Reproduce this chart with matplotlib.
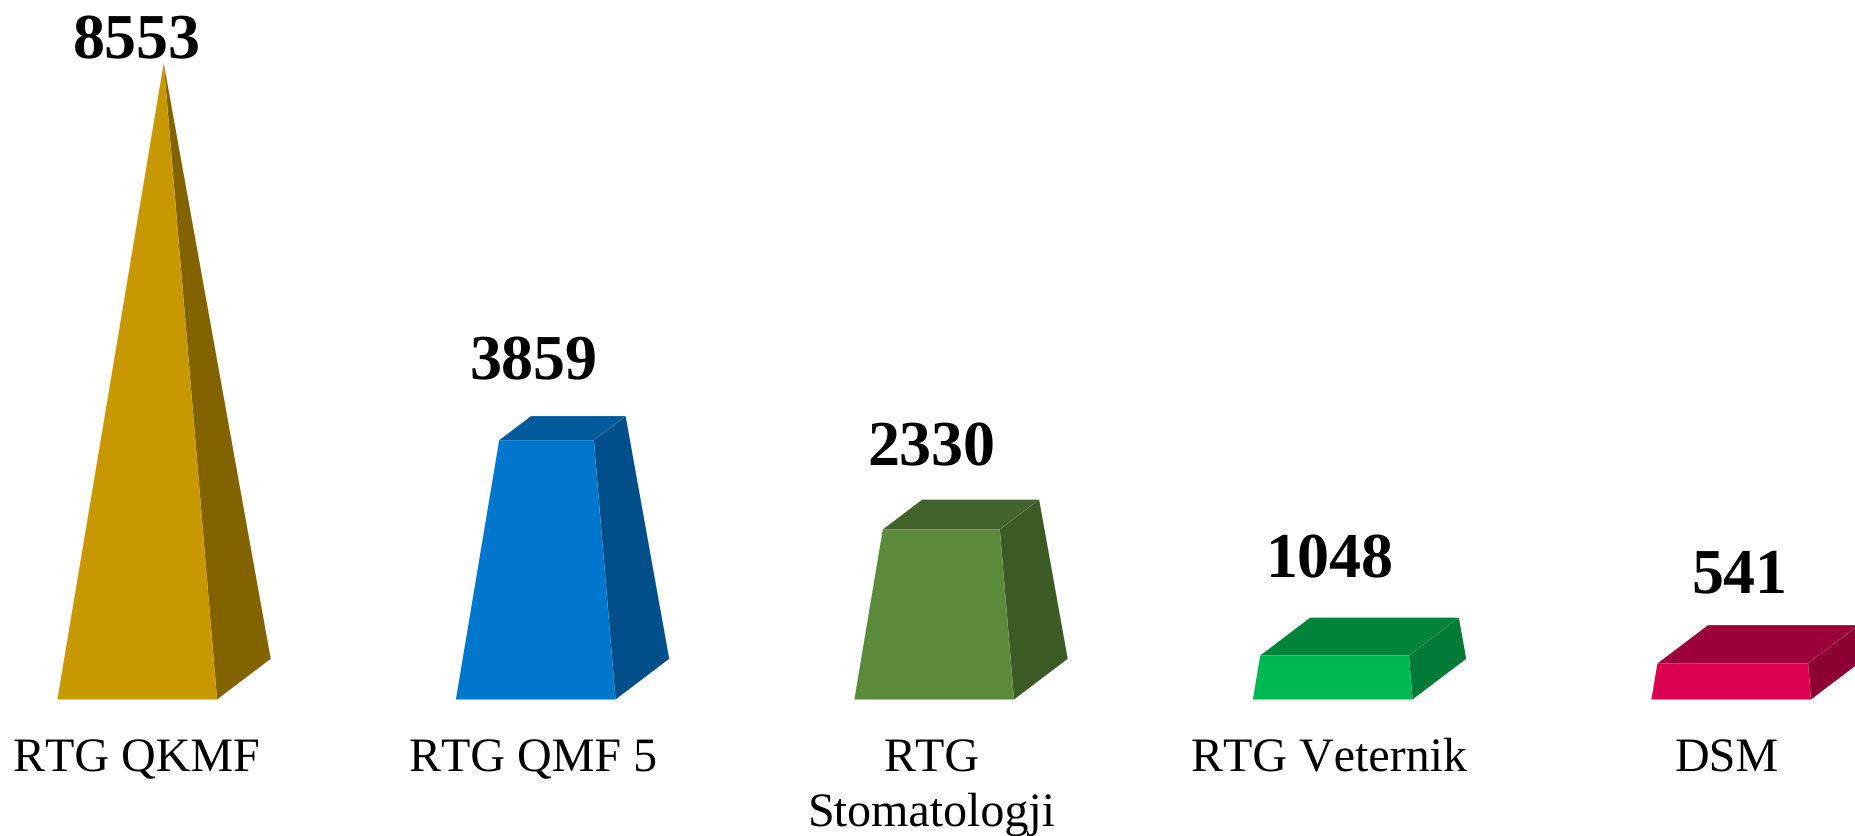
import matplotlib
matplotlib.use("Agg")
import matplotlib.pyplot as plt
from matplotlib.patches import Polygon

# --- data ---
categories = ["RTG QKMF", "RTG QMF 5", "RTG\nStomatologji", "RTG Veternik", "DSM"]
printed_values = [8553, 3859, 2330, 1048, 541]
# height of each truncated pyramid as drawn in the reference, on the scale where the apex = 8553
drawn_heights = [8553, 3483, 2284, 591, 483]

# --- style ---
front_colors = ["#C89800", "#0077CC", "#5B8A3A", "#00B853", "#DC0050"]
side_colors = ["#826300", "#004F8A", "#3C5A24", "#007A36", "#8C0033"]
top_colors = ["#826300", "#005A9B", "#42642A", "#00843C", "#9C003A"]

W, H = 1855, 837
BASE_PX, APEX_PX, SPACING_PX, FIRST_PX = 700.5, 63.8, 398.5, 137.2
PX_PER_VALUE = (BASE_PX - APEX_PX) / max(drawn_heights)
HALF_W = 79.85 / SPACING_PX
APEX_DX = 26.5 / SPACING_PX
DEPTH_X = 53.7 / SPACING_PX
DEPTH_Y = 40.7 / PX_PER_VALUE

value_dx_px = [-0.5, -1.7, -2.5, -3.0, 8.0]
value_gap_px = [5.3, 37.7, 35.0, 41.6, 33.6]
cat_dx_px = [-0.5, -3.0, -2.5, -4.0, -5.0]
CAT_BASE_PX = 771.7
CAT_LINE_PX = 54.3

plt.rcParams["font.family"] = ["Liberation Serif", "DejaVu Serif"]
plt.rcParams["text.hinting"] = "none"
plt.rcParams["text.hinting_factor"] = 1
plt.rcParams["text.kerning_factor"] = 10
fig = plt.figure(figsize=(W / 100, H / 100), dpi=100, facecolor="white")
ax = fig.add_axes([0, 0, 1, 1])
ax.set_xlim(-FIRST_PX / SPACING_PX, (W - FIRST_PX) / SPACING_PX)
ax.set_ylim(-(H - BASE_PX) / PX_PER_VALUE, BASE_PX / PX_PER_VALUE)
ax.axis("off")

APEX = max(drawn_heights)
PT = 72 / 100


def lerp(a, b, t):
    return (a[0] + (b[0] - a[0]) * t, a[1] + (b[1] - a[1]) * t)


for i, (h, v, name) in enumerate(zip(drawn_heights, printed_values, categories)):
    t = h / APEX
    apex = (i + APEX_DX, APEX)
    fl, fr = (i - HALF_W, 0.0), (i + HALF_W, 0.0)
    bl, br = (fl[0] + DEPTH_X, DEPTH_Y), (fr[0] + DEPTH_X, DEPTH_Y)
    ftl, ftr = lerp(fl, apex, t), lerp(fr, apex, t)
    btl, btr = lerp(bl, apex, t), lerp(br, apex, t)
    kw = dict(closed=True, edgecolor="none", antialiased=True)
    ax.add_patch(Polygon([ftl, ftr, btr, btl], facecolor=top_colors[i], **kw))
    ax.add_patch(Polygon([fr, br, btr, ftr], facecolor=side_colors[i], **kw))
    ax.add_patch(Polygon([fl, fr, ftr, ftl], facecolor=front_colors[i], **kw))

    label_y = max(btl[1], ftl[1])
    ax.annotate(str(v), xy=(i, label_y), xycoords="data",
                xytext=(value_dx_px[i] * PT, value_gap_px[i] * PT),
                textcoords="offset points", ha="center", va="baseline",
                fontsize=46, fontweight="bold", color="black")
    for j, line in enumerate(name.split("\n")):
        ax.annotate(line, xy=(i, 0), xycoords="data",
                    xytext=(cat_dx_px[i] * PT,
                            -(CAT_BASE_PX - BASE_PX + j * CAT_LINE_PX) * PT),
                    textcoords="offset points", ha="center", va="baseline",
                    fontsize=34.6, color="black")

fig.savefig("out.png", dpi=100, facecolor="white")
